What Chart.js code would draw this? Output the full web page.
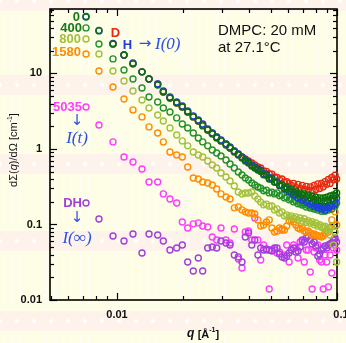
<!DOCTYPE html>
<html>
<head>
<meta charset="utf-8">
<script src="https://cdn.jsdelivr.net/npm/chart.js@4.4.1/dist/chart.umd.min.js"></script>
<style>
  html, body { margin: 0; padding: 0; background: #fefde8; }
  #wrap { width: 346px; height: 343px; }
</style>
</head>
<body>
<div id="wrap"><canvas id="sans" width="346" height="343"></canvas></div>
<script>
// q grid [1/A], shared by all runs
const q = [0.00723,0.00828,0.00959,0.01076,0.01182,0.01299,0.01398,0.01531,0.01624,0.01741,
  0.01868,0.01981,0.02096,0.02222,0.02342,0.02452,0.02584,0.02711,0.02839,0.0297,
  0.0313,0.03264,0.03414,0.0356,0.0370,0.0383,0.0396,0.0410,0.0423,0.0437,
  0.0450,0.0464,0.0478,0.0492,0.0506,0.0520,0.0534,0.0548,0.0562,0.0577,
  0.0591,0.0606,0.0620,0.0635,0.0650,0.0665,0.0680,0.0695,0.0710,0.0725,
  0.0740,0.0756,0.0771,0.0787,0.0802,0.0818,0.0834,0.0850,0.0866,0.0882,
  0.0898,0.0914,0.0930,0.0947,0.0963,0.0980,0.0996];

// dSigma/dOmega [cm-1]
const I_D = [null,null,24.6,17.6,13.4,10.5,8.46,7.26,5.69,4.74,
  4.07,3.60,3.09,2.66,2.35,2.08,1.785,1.63,1.44,1.28,
  1.17,1.03,0.941,0.859,0.784,0.737,0.694,0.653,0.614,0.578,
  0.560,0.510,0.505,0.470,0.465,0.425,0.420,0.390,0.400,0.365,
  0.370,0.350,0.330,0.350,0.310,0.340,0.300,0.330,0.290,0.320,
  0.285,0.315,0.280,0.330,0.290,0.345,0.300,0.350,0.315,0.370,
  0.340,0.395,0.350,0.420,0.390,0.450,0.400];
const I_H = [57.0,37.2,25.0,17.6,13.8,10.5,8.46,7.26,5.87,4.89,
  4.19,3.71,3.19,2.74,2.42,2.14,1.84,1.63,1.44,1.32,
  1.17,1.06,0.941,0.859,0.784,0.715,0.673,0.614,0.578,0.544,
  0.525,0.470,0.462,0.415,0.410,0.365,0.362,0.325,0.332,0.296,
  0.294,0.270,0.268,0.246,0.252,0.224,0.230,0.210,0.218,0.198,
  0.206,0.186,0.194,0.175,0.183,0.168,0.178,0.160,0.172,0.155,
  0.170,0.165,0.178,0.175,0.205,0.190,0.225];
const I_0 = [56.0,36.6,24.6,17.6,13.4,10.5,8.46,7.04,5.69,4.74,
  4.07,3.60,3.09,2.66,2.35,2.02,1.785,1.58,1.40,1.28,
  1.13,1.03,0.913,0.833,0.760,0.694,0.653,0.596,0.561,0.527,
  0.505,0.455,0.448,0.400,0.398,0.365,0.364,0.333,0.332,0.305,
  0.313,0.285,0.294,0.268,0.277,0.252,0.262,0.246,0.254,0.232,
  0.246,0.224,0.238,0.216,0.231,0.210,0.225,0.204,0.224,0.205,
  0.230,0.212,0.238,0.218,0.246,0.238,0.262];
const I_400 = [40.1,24.6,15.6,11.1,8.46,6.43,4.89,4.19,3.49,3.09,
  2.58,2.14,1.90,1.63,1.40,1.24,1.10,0.970,0.885,0.808,
  0.715,0.633,0.561,0.496,0.453,0.413,0.389,0.355,0.334,0.314,
  0.302,0.280,0.285,0.262,0.268,0.254,0.262,0.240,0.246,0.225,
  0.230,0.212,0.217,0.199,0.205,0.188,0.193,0.181,0.187,0.170,
  0.177,0.165,0.172,0.160,0.167,0.155,0.162,0.150,0.166,0.150,
  0.172,0.155,0.178,0.160,0.182,0.175,0.193];
const I_800 = [28.6,18.1,10.8,7.96,5.87,4.46,3.49,2.82,2.35,1.90,
  1.53,1.28,1.10,0.913,0.833,0.784,0.694,0.614,0.561,0.481,
  0.426,0.377,0.324,0.269,0.254,0.261,0.261,0.269,0.239,0.218,
  0.198,0.182,0.186,0.175,0.176,0.156,0.161,0.142,0.147,0.130,
  0.134,0.126,0.130,0.121,0.126,0.114,0.122,0.111,0.119,0.107,
  0.112,0.104,0.109,0.099,0.105,0.095,0.099,0.092,0.093,0.095,
  0.0846,0.0899,0.0726,0.0955,0.0535,0.0796,0.0319];
const I_1580 = [18.1,10.8,6.63,4.60,3.29,2.66,1.96,1.63,1.24,0.913,
  0.833,0.784,0.578,0.413,0.401,0.366,0.355,0.334,0.295,0.254,
  0.231,0.218,0.166,0.171,0.156,0.147,0.142,0.142,0.138,0.115,
  0.0955,0.0985,0.108,0.115,0.0899,0.0796,0.0820,0.0899,0.0872,0.0846,
  0.0955,0.111,0.115,0.108,0.0985,0.0899,0.0872,0.0899,0.0820,0.0796,
  0.0820,0.0772,0.0726,0.0749,0.0726,0.0705,0.0705,0.0683,0.0705,0.0772,
  0.0820,0.0796,0.0899,0.115,0.199,0.147,0.0985];
const I_5035 = [3.60,2.08,1.24,0.784,0.673,0.544,0.366,0.366,0.254,0.218,
  0.193,0.108,0.0899,0.102,0.105,0.0955,0.0926,0.0683,0.0623,0.0899,
  0.0623,0.0569,0.0872,0.0349,0.0265,0.0796,0.0820,0.0623,0.122,0.0623,
  0.0339,0.0535,0.0460,0.0140,0.0460,0.0460,0.0419,0.0432,0.0846,0.0395,
  0.0535,0.0319,0.0460,0.0535,0.0489,0.0360,0.0587,0.0605,0.0319,0.0460,
  0.0460,0.0235,0.0140,0.0432,0.0489,0.0535,0.0339,0.0319,0.0140,0.0395,
  0.0319,0.0149,0.0395,0.0228,0.0489,0.0623,0.0460];
const I_DH = [0.193,0.118,0.0705,0.0605,0.0749,0.0419,0.0749,0.0726,0.0605,0.0460,
  0.0489,0.0535,0.0319,0.0242,0.0360,0.0242,0.0489,0.0504,0.0489,0.0605,
  0.0569,0.0535,0.0395,0.0372,0.0319,0.0683,0.0772,0.0535,0.0623,0.0395,
  0.0489,0.0460,0.0474,0.0460,0.0446,0.0489,0.0489,0.0407,0.0372,0.0360,
  0.0383,0.0419,0.0460,0.0489,0.0432,0.0446,0.0504,0.0623,0.0587,0.0663,
  0.0705,0.0623,0.0552,0.0587,0.0520,0.0383,0.0407,0.0460,0.0489,0.0520,
  0.0489,0.0535,0.0552,0.0569,0.0623,0.0663,0.0587];

// axis ticks
const xMajor = [0.01, 0.1];
const xMajorLabels = ['0.01', '0.1'];
const xMinor = [0.005,0.006,0.007,0.008,0.009,0.02,0.03,0.04,0.05,0.06,0.07,0.08,0.09];
const yMajor = [0.01, 0.1, 1, 10];
const yMajorLabels = ['0.01', '0.1', '1', '10'];
const yMinor = [0.02,0.03,0.04,0.05,0.06,0.07,0.08,0.09,0.2,0.3,0.4,0.5,0.6,0.7,0.8,0.9,
  2,3,4,5,6,7,8,9,20,30,40,50,60,70];

const series = [
  { name: '0',    vals: I_0,    color: '#0c6e0c' },
  { name: 'H',    vals: I_H,    color: '#1c3fe0' },
  { name: 'D',    vals: I_D,    color: '#e8280f' },
  { name: '400',  vals: I_400,  color: '#21922a' },
  { name: '800',  vals: I_800,  color: '#a3c13c' },
  { name: '1580', vals: I_1580, color: '#ff8c00' },
  { name: 'DH',   vals: I_DH,   color: '#a040dc' },
  { name: '5035', vals: I_5035, color: '#ff3cff' },
];

const toPoints = vals => vals.map((v, i) => ({ x: q[i], y: v })).filter(p => p.y != null);

const paper = {
  id: 'paper',
  beforeDraw(chart) {
    const { ctx, width, height } = chart;
    ctx.save();
    ctx.fillStyle = '#fefde6';
    ctx.fillRect(0, 0, width, height);
    ctx.strokeStyle = 'rgba(255,255,255,0.6)';
    ctx.lineWidth = 1;
    for (let x = 3; x < width; x += 8.5) {
      ctx.beginPath(); ctx.moveTo(Math.round(x) + 0.5, 0); ctx.lineTo(Math.round(x) + 0.5, height); ctx.stroke();
    }
    [-9, 75, 154, 231, 311].forEach(top => {
      ctx.fillStyle = '#fdf3ea';
      ctx.fillRect(0, top, width, 20);
      ctx.fillStyle = 'rgba(255,255,255,0.85)';
      for (let x = 0; x < width + 17; x += 17) {
        const cy = top + 10;
        ctx.beginPath();
        ctx.moveTo(x, cy - 3); ctx.lineTo(x + 2.5, cy); ctx.lineTo(x, cy + 3); ctx.lineTo(x - 2.5, cy);
        ctx.closePath(); ctx.fill();
      }
    });
    ctx.restore();
  },
  beforeDatasetsDraw(chart) {
    const { ctx, chartArea: a } = chart;
    const xs = chart.scales.x, ys = chart.scales.y;
    ctx.save();
    ctx.strokeStyle = '#000';
    ctx.lineWidth = 1.6;
    ctx.strokeRect(a.left, a.top, a.right - a.left, a.bottom - a.top);
    ctx.lineWidth = 1.2;
    const tick = (x1, y1, x2, y2) => { ctx.beginPath(); ctx.moveTo(x1, y1); ctx.lineTo(x2, y2); ctx.stroke(); };
    xMajor.concat(xMinor).forEach(v => {
      const len = xMajor.includes(v) ? 7 : 4;
      const px = Math.round(xs.getPixelForValue(v)) + 0.5;
      tick(px, a.bottom, px, a.bottom - len);
      tick(px, a.top, px, a.top + len);
    });
    yMajor.concat(yMinor).forEach(v => {
      const len = yMajor.includes(v) ? 7 : 4;
      const py = Math.round(ys.getPixelForValue(v)) + 0.5;
      tick(a.left, py, a.left + len, py);
      tick(a.right, py, a.right - len, py);
    });
    ctx.restore();
  },
  afterDraw(chart) {
    const { ctx, chartArea: a } = chart;
    const xs = chart.scales.x, ys = chart.scales.y;
    ctx.save();
    ctx.fillStyle = '#111';
    ctx.font = 'bold 11px "Liberation Sans", Arial, sans-serif';
    ctx.textAlign = 'right'; ctx.textBaseline = 'middle';
    yMajor.forEach((v, i) => ctx.fillText(yMajorLabels[i], a.left - 8, ys.getPixelForValue(v)));
    ctx.textAlign = 'center'; ctx.textBaseline = 'top';
    xMajor.forEach((v, i) => ctx.fillText(xMajorLabels[i], xs.getPixelForValue(v) + (i === 1 ? 4 : 0), a.bottom + 9));

    // x title
    ctx.textBaseline = 'middle'; ctx.textAlign = 'left';
    let x = 187;
    ctx.font = 'italic bold 12px "Liberation Sans", Arial, sans-serif';
    ctx.fillText('q', x, 334); x += ctx.measureText('q ').width;
    ctx.font = 'bold 11px "Liberation Sans", Arial, sans-serif';
    ctx.fillText('[Å', x, 335); x += ctx.measureText('[Å').width;
    ctx.font = 'bold 7px "Liberation Sans", Arial, sans-serif';
    ctx.fillText('-1', x, 330); x += ctx.measureText('-1').width;
    ctx.font = 'bold 11px "Liberation Sans", Arial, sans-serif';
    ctx.fillText(']', x, 335);

    // y title
    ctx.save();
    ctx.translate(14, 150);
    ctx.rotate(-Math.PI / 2);
    const parts = [
      ['dΣ(', '11px "Liberation Sans", Arial', 0],
      ['q', 'italic 11px "Liberation Sans", Arial', 0],
      [')/dΩ [cm', '11px "Liberation Sans", Arial', 0],
      ['-1', '7px "Liberation Sans", Arial', -4],
      [']', '11px "Liberation Sans", Arial', 0],
    ];
    let w = 0;
    parts.forEach(p => { ctx.font = p[1]; w += ctx.measureText(p[0]).width; });
    let px = -w / 2;
    parts.forEach(p => { ctx.font = p[1]; ctx.fillText(p[0], px, p[2]); px += ctx.measureText(p[0]).width; });
    ctx.restore();

    // run labels
    ctx.font = 'bold 13px "Liberation Sans", Arial, sans-serif';
    ctx.textAlign = 'right'; ctx.textBaseline = 'middle';
    const lab = (t, c, xx, yy) => { ctx.fillStyle = c; ctx.fillText(t, xx, yy); };
    lab('0', '#167a16', 80, 17);
    lab('400', '#167a16', 82, 28);
    lab('800', '#a3bf3a', 81, 39);
    lab('1580', '#ff8c00', 81, 52);
    lab('5035', '#ff3cff', 82, 107);
    lab('DH', '#a23fdc', 82, 203);
    ctx.textAlign = 'center';
    lab('D', '#e8280f', 115.5, 33);
    lab('H', '#1c3fd8', 127.5, 45);

    const blue = '#2b50e6';
    ctx.fillStyle = blue;
    ctx.font = '15px "DejaVu Sans", sans-serif';
    ctx.fillText('→', 145, 44);
    ctx.fillText('↓', 77, 121);
    ctx.fillText('↓', 77, 218);
    ctx.font = 'italic 17px "Liberation Serif", "Times New Roman", serif';
    ctx.textAlign = 'left';
    ctx.fillText('I(0)', 155, 45);
    ctx.textAlign = 'center';
    ctx.fillText('I(t)', 77, 139);
    ctx.fillText('I(∞)', 77, 239);

    ctx.fillStyle = '#111';
    ctx.textAlign = 'left';
    ctx.font = '15px "Liberation Sans", Arial, sans-serif';
    ctx.fillText('DMPC: 20 mM', 218, 31);
    ctx.fillText('at 27.1°C', 218, 48);
    ctx.restore();
  }
};

new Chart(document.getElementById('sans'), {
  type: 'scatter',
  data: {
    datasets: series.map(s => ({
      label: s.name,
      data: toPoints(s.vals),
      borderColor: s.color,
      backgroundColor: 'rgba(0,0,0,0)',
      pointRadius: 3,
      pointBorderWidth: 1.4,
      showLine: false,
      clip: false,
    }))
  },
  options: {
    responsive: false,
    animation: false,
    devicePixelRatio: 1,
    layout: { padding: { left: 50, right: 9, top: 9, bottom: 43 } },
    plugins: { legend: { display: false }, tooltip: { enabled: false } },
    scales: {
      x: { type: 'logarithmic', min: 0.00496, max: 0.1, display: false },
      y: { type: 'logarithmic', min: 0.01, max: 71.4, display: false },
    }
  },
  plugins: [paper]
});
</script>
</body>
</html>
